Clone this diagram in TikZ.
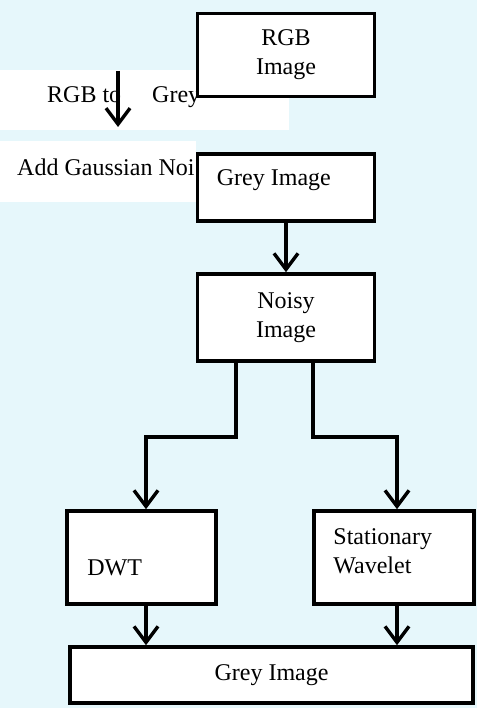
\documentclass[tikz,border=0pt]{standalone}
\usepackage{fontspec}
\setmainfont{Liberation Serif}
\usetikzlibrary{positioning,arrows.meta}

\definecolor{wmark}{RGB}{230,247,251}

\begin{document}
\begin{tikzpicture}[x=1pt, y=-1pt,
  box/.style={draw=black, fill=white, line width=3.6pt, inner sep=0pt, align=center},
  txt/.style={inner sep=0pt, align=left},
  arr/.style={draw=black, line width=3.4pt, -{Straight Barb[length=16pt, width=24pt]}},
  font=\fontsize{24}{29}\selectfont]
%%%%%%%%% background
\fill[wmark] (0,0) rectangle (477,708);
\useasboundingbox (0,0) rectangle (477,708);
\fill[white] (0,70) rectangle (289,130);
\fill[white] (0,141) rectangle (196,202);

%%%%%%%%% side texts
\node[txt, anchor=west] (togrey) at (47,97) {RGB to\hspace{31pt}Grey};
\node[txt, anchor=west] (noise) at (17,167) {Add Gaussian Noi};
\coordinate (convtop) at (118,71);
\coordinate (convend) at (118,127);
\draw[arr] (convtop) -- (convend);

%%%%%%%%% boxes
\node[box, minimum width=177pt, minimum height=83pt] (rgb) at (286,55) {RGB\\Image};
\node[box, minimum width=177pt, minimum height=67pt] (grey) at (286,187.5) {};
\node[txt, anchor=west] (greytxt) at ([xshift=21pt, yshift=7pt]grey.west) {Grey Image};
\node[box, minimum width=177pt, minimum height=87pt] (noisy) at (286,317.5) {Noisy\\Image};
\node[box, minimum width=149pt, minimum height=93pt] (dwt) at (141.5,557.5) {};
\node[txt, anchor=west] (dwttxt) at ([xshift=22pt, yshift=-10pt]dwt.west) {DWT};
\node[box, minimum width=160pt, minimum height=93pt] (swt) at (394,557.5) {};
\node[txt, anchor=west] (swttxt) at ([xshift=21pt, yshift=6pt]swt.west) {Stationary\\Wavelet};
\node[box, minimum width=403pt, minimum height=56pt] (out) at (271.5,675) {Grey Image};

%%%%%%%%% connectors
\draw[arr] (grey.south) -- (noisy.north);
\draw[arr] ([xshift=-50pt]noisy.south) -- ++(0,74) -| ([xshift=4.5pt]dwt.north);
\draw[arr] ([xshift=27pt]noisy.south) -- ++(0,74) -| ([xshift=3pt]swt.north);
\draw[arr] ([xshift=4.5pt]dwt.south) -- ([xshift=4.5pt]dwt.south |- out.north);
\draw[arr] ([xshift=3pt]swt.south) -- ([xshift=3pt]swt.south |- out.north);

\end{tikzpicture}
\end{document}
